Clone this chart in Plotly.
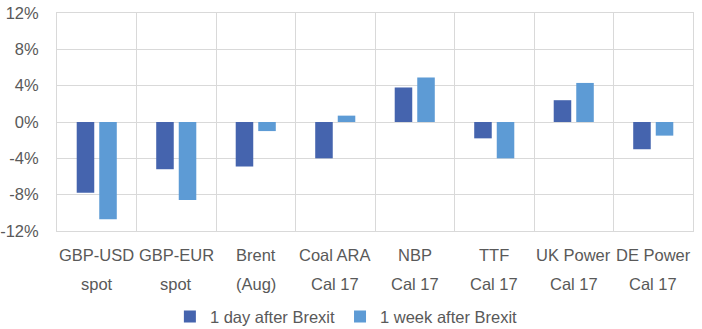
import plotly.graph_objects as go

categories = ["GBP-USD", "GBP-EUR", "Brent", "Coal ARA", "NBP", "TTF", "UK Power", "DE Power"]
categories_line2 = ["spot", "spot", "(Aug)", "Cal 17", "Cal 17", "Cal 17", "Cal 17", "Cal 17"]
day_after = [-7.8, -5.2, -4.9, -4.0, 3.8, -1.8, 2.4, -3.0]
week_after = [-10.7, -8.6, -1.0, 0.7, 4.9, -4.0, 4.3, -1.5]
series_names = ["1 day after Brexit", "1 week after Brexit"]
y_ticks = [-12, -8, -4, 0, 4, 8, 12]
y_tick_labels = ["-12%", "-8%", "-4%", "0%", "4%", "8%", "12%"]

FONT = "Liberation Sans, Arial, sans-serif"
TXT = "#595959"
GRID = "#d9d9d9"
FS = 16.5

fig = go.Figure()
fig.add_trace(go.Bar(x=categories, y=day_after, name=series_names[0],
                     marker=dict(color="#4564AE", line=dict(width=0))))
fig.add_trace(go.Bar(x=categories, y=week_after, name=series_names[1],
                     marker=dict(color="#5D9BD5", line=dict(width=0))))

annotations = []
for c, l2 in zip(categories, categories_line2):
    annotations.append(dict(x=c, xref="x", y=-0.112, yref="paper", text=c,
                            showarrow=False, yanchor="middle", xanchor="center",
                            font=dict(family=FONT, size=FS, color=TXT)))
    annotations.append(dict(x=c, xref="x", y=-0.245, yref="paper", text=l2,
                            showarrow=False, yanchor="middle", xanchor="center",
                            font=dict(family=FONT, size=FS, color=TXT)))

fig.update_layout(
    width=702, height=329,
    margin=dict(l=57, r=9, t=13, b=98, autoexpand=False),
    paper_bgcolor="white", plot_bgcolor="white",
    barmode="group", bargap=0.433, bargroupgap=0.222,
    font=dict(family=FONT, size=FS, color=TXT),
    showlegend=True,
    legend=dict(orientation="h", x=0.455, xanchor="center", y=-0.394, yanchor="middle",
                font=dict(family=FONT, size=FS, color=TXT), traceorder="normal",
                itemwidth=30),
    annotations=annotations,
    xaxis=dict(type="category", tickson="boundaries", showgrid=True, gridcolor=GRID,
               gridwidth=1, showticklabels=False, ticks="", showline=True, linecolor=GRID,
               mirror=True, zeroline=False, automargin=False),
    yaxis=dict(range=[-12, 12], tickvals=y_ticks, ticktext=y_tick_labels,
               showgrid=True, gridcolor=GRID, gridwidth=1, zeroline=True,
               zerolinecolor=GRID, zerolinewidth=1, showline=True, linecolor=GRID,
               mirror=True, ticks="", ticklabelstandoff=14, automargin=False,
               tickfont=dict(family=FONT, size=FS, color=TXT)),
)

fig.write_html("out.html")
